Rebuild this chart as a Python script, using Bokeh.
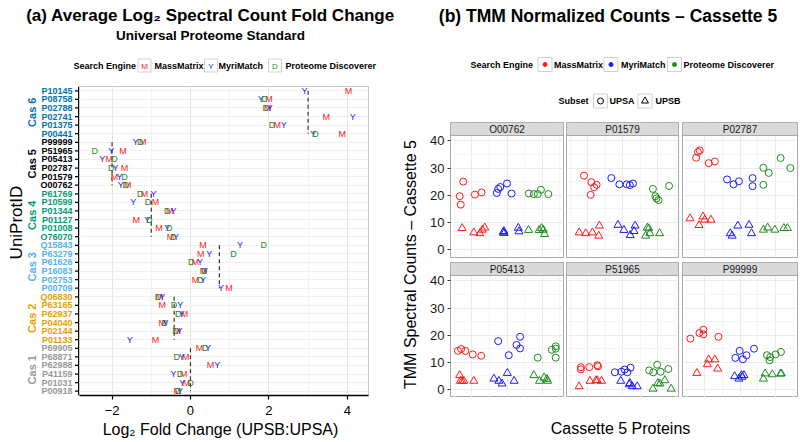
import math
from bokeh.plotting import figure
from bokeh.layouts import row, column
from bokeh.models import Range1d, FixedTicker
from bokeh.core.properties import value
from bokeh.embed import file_html
from bokeh.resources import INLINE

FONT = "Liberation Sans"
nan = float("nan")

# ---------------- data: panel (a) ----------------
proteins = ["P10145", "P08758", "P02788", "P02741", "P01375", "P00441",
            "P99999", "P51965", "P05413", "P02787", "P01579", "O00762",
            "P61769", "P10599", "P01344", "P01127", "P01008", "O76070",
            "Q15843", "P63279", "P61626", "P16083", "P02753", "P00709",
            "Q06830", "P63165", "P62937", "P04040", "P02144", "P01133",
            "P69905", "P68871", "P62988", "P41159", "P01031", "P00918"]
cassettes = ["Cas 6", "Cas 5", "Cas 4", "Cas 3", "Cas 2", "Cas 1"]
cassette_expected = [3.0, -2.0, -1.0, 0.737, -0.415, 0.0]
cassette_colors = ["#0072B2", "#000000", "#009E73", "#56B4E9", "#E69F00", "#999999"]
massmatrix_fc = [4.03, 2.00, 1.97, 3.46, 2.21, 3.87,
                 -1.22, -1.72, -2.08, -1.68, -1.94, -1.60,
                 -1.17, -0.89, -0.53, -1.38, -0.80, -0.51,
                 0.32, 0.26, 0.12, 0.33, 0.13, 0.98,
                 -0.79, -0.72, -0.15, -0.72, -0.34, -0.89,
                 0.23, -0.12, 0.51, -0.17, -0.10, -0.34]
myrimatch_fc = [2.91, 1.80, 2.02, 4.14, 2.38, 3.13,
                -1.40, -2.02, -2.25, -1.91, -1.81, -1.78,
                -0.94, -1.46, -0.43, -1.10, -0.59, -0.37,
                1.26, 0.48, 0.24, 0.37, 0.32, 0.78,
                -0.72, -0.26, -0.22, -0.64, -0.28, -1.55,
                0.45, -0.22, 0.68, -0.43, -0.21, -0.26]
discoverer_fc = [nan, 1.89, 1.92, nan, 2.08, 3.19,
                 -1.28, -2.44, -1.94, -2.02, -1.68, -1.65,
                 -1.28, -1.08, -0.59, -1.05, -0.54, -0.44,
                 1.87, 1.10, 0.02, 0.35, 0.25, nan,
                 -0.83, -0.42, -0.31, -0.66, -0.38, nan,
                 0.38, -0.35, nan, -0.27, 0.00, -0.32]
x_ticks_a = [-2, 0, 2, 4]

# ---------------- data: panel (b) ----------------
engines = ["MassMatrix", "MyriMatch", "Proteome Discoverer"]
engine_letters = ["M", "Y", "D"]
engine_colors = ["#FF1A1A", "#1A1AFF", "#1E8B1E"]
reps_per_engine = 5
facet_names = ["O00762", "P01579", "P02787", "P05413", "P51965", "P99999"]
y_ticks_b = [0, 10, 20, 30, 40]

o00762_upsa_pos = [0.66, 0.69, 0.76, 1.09, 1.28, 1.71, 1.75, 1.81, 2.00, 2.13, 2.62, 2.76, 2.87, 2.96, 3.17]
o00762_upsa_tmm = [19.6, 16.5, 25.0, 20.2, 21.0, 20.8, 22.3, 23.0, 24.3, 20.6, 20.6, 20.4, 20.4, 22.0, 20.4]
o00762_upsb_pos = [0.73, 1.06, 1.23, 1.30, 1.37, 1.89, 1.91, 1.92, 2.32, 2.34, 2.61, 2.91, 2.98, 3.03, 3.06]
o00762_upsb_tmm = [7.8, 6.2, 5.9, 7.2, 8.0, 6.2, 6.7, 6.0, 7.9, 6.6, 7.1, 7.1, 7.8, 7.2, 5.6]

p01579_upsa_pos = [0.90, 1.09, 1.11, 1.19, 1.26, 1.68, 1.91, 2.12, 2.21, 2.30, 2.87, 2.94, 2.97, 3.03, 3.33]
p01579_upsa_tmm = [27.2, 20.1, 24.8, 22.9, 23.8, 26.3, 24.0, 24.0, 23.7, 24.3, 22.3, 19.6, 18.8, 18.2, 23.4]
p01579_upsb_pos = [0.76, 0.95, 1.14, 1.32, 1.34, 1.87, 2.04, 2.22, 2.33, 2.36, 2.66, 2.71, 2.75, 2.78, 3.06]
p01579_upsb_tmm = [6.2, 5.9, 6.2, 5.0, 8.7, 9.0, 7.1, 5.2, 6.7, 8.7, 5.0, 8.0, 7.7, 5.9, 5.9]

p02787_upsa_pos = [0.78, 0.83, 0.88, 1.13, 1.30, 1.64, 1.82, 1.97, 2.35, 2.35, 2.65, 2.65, 2.80, 3.13, 3.40]
p02787_upsa_tmm = [33.8, 35.9, 36.5, 31.8, 32.4, 25.8, 24.0, 25.1, 26.3, 23.3, 30.1, 23.8, 28.2, 33.7, 30.0]
p02787_upsb_pos = [0.61, 0.86, 0.97, 1.02, 1.19, 1.73, 1.78, 1.94, 2.25, 2.32, 2.65, 2.77, 2.97, 3.22, 3.32]
p02787_upsb_tmm = [11.4, 8.9, 12.1, 10.9, 10.9, 5.9, 5.0, 8.7, 9.0, 5.9, 7.2, 8.0, 7.2, 7.8, 7.8]

p05413_upsa_pos = [0.61, 0.70, 0.82, 1.03, 1.27, 1.75, 2.05, 2.27, 2.37, 2.37, 2.87, 3.27, 3.38, 3.38, 3.38]
p05413_upsa_tmm = [14.2, 14.9, 14.2, 12.9, 12.4, 17.8, 12.6, 16.4, 15.1, 19.4, 11.7, 14.6, 15.9, 15.0, 11.7]
p05413_upsb_pos = [0.66, 0.68, 0.73, 0.78, 1.06, 1.63, 1.77, 1.86, 2.01, 2.20, 2.76, 2.92, 3.05, 3.13, 3.15]
p05413_upsb_tmm = [5.2, 3.1, 3.1, 3.1, 3.1, 3.9, 3.1, 2.1, 6.0, 3.1, 5.2, 3.1, 4.3, 3.8, 3.1]

p51965_upsa_pos = [0.81, 0.81, 1.05, 1.28, 1.30, 1.78, 1.97, 2.06, 2.14, 2.23, 2.76, 2.88, 2.99, 3.09, 3.31]
p51965_upsa_tmm = [8.2, 7.4, 8.2, 8.9, 8.5, 6.3, 6.5, 7.3, 6.3, 8.0, 7.0, 6.3, 9.1, 6.5, 7.5]
p51965_upsb_pos = [0.76, 1.07, 1.24, 1.28, 1.40, 1.95, 2.19, 2.21, 2.28, 2.42, 2.87, 3.01, 3.07, 3.21, 3.39]
p51965_upsb_tmm = [1.1, 3.1, 3.3, 3.3, 3.1, 3.1, 1.8, 2.3, 1.1, 1.1, 0.2, 2.3, 2.1, 3.3, 0.2]

p99999_upsa_pos = [0.62, 0.87, 0.98, 0.98, 1.40, 1.87, 1.99, 2.08, 2.18, 2.39, 2.75, 2.84, 2.82, 2.99, 3.14]
p99999_upsa_tmm = [18.7, 20.8, 22.0, 20.3, 19.4, 11.6, 14.2, 11.1, 12.6, 15.0, 12.6, 11.9, 10.7, 12.9, 13.8]
p99999_upsb_pos = [0.80, 1.09, 1.13, 1.30, 1.38, 1.85, 1.97, 2.04, 2.06, 2.11, 2.65, 2.70, 2.90, 3.13, 3.15]
p99999_upsb_tmm = [6.0, 9.2, 11.0, 11.0, 7.6, 4.8, 3.9, 5.2, 4.6, 5.2, 3.9, 5.8, 5.5, 5.8, 5.8]

facet_data = {
    "O00762": (o00762_upsa_pos, o00762_upsa_tmm, o00762_upsb_pos, o00762_upsb_tmm),
    "P01579": (p01579_upsa_pos, p01579_upsa_tmm, p01579_upsb_pos, p01579_upsb_tmm),
    "P02787": (p02787_upsa_pos, p02787_upsa_tmm, p02787_upsb_pos, p02787_upsb_tmm),
    "P05413": (p05413_upsa_pos, p05413_upsa_tmm, p05413_upsb_pos, p05413_upsb_tmm),
    "P51965": (p51965_upsa_pos, p51965_upsa_tmm, p51965_upsb_pos, p51965_upsb_tmm),
    "P99999": (p99999_upsa_pos, p99999_upsa_tmm, p99999_upsb_pos, p99999_upsb_tmm),
}


# ---------------- helpers ----------------
def blank(w, h, xr=None, yr=None, left=0, right=0, top=0, bottom=0):
    p = figure(width=w, height=h,
               x_range=xr if xr is not None else Range1d(0, w),
               y_range=yr if yr is not None else Range1d(h, 0),
               output_backend="svg", toolbar_location=None,
               x_axis_location=None, y_axis_location=None,
               min_border_left=left, min_border_right=right,
               min_border_top=top, min_border_bottom=bottom)
    p.outline_line_color = None
    p.grid.visible = False
    p.background_fill_color = "white"
    p.border_fill_color = "white"
    return p


def txt(p, x, y, s, size, color="black", bold=False, align="left", angle=0.0):
    p.text(x=[x], y=[y], text=[s], text_font=value(FONT),
           text_font_size=f"{size}px",
           text_font_style="bold" if bold else "normal",
           text_color=color, text_align=align, text_baseline="middle",
           angle=angle)


# ================= Panel (a) =================
n = len(proteins)
rows_y = [n - 1 - i for i in range(n)]
prot_colors = [cassette_colors[i // 6] for i in range(n)]

# header (title, subtitle, legend)
ha = blank(400, 80)
txt(ha, 210, 15, "(a) Average Log\u2082 Spectral Count Fold Change", 17, bold=True, align="center")
txt(ha, 210, 35, "Universal Proteome Standard", 13.5, bold=True, align="center")
txt(ha, 73, 65, "Search Engine", 9, bold=True)
key_x_a = [144, 210.5, 274.5]
ha.rect(x=key_x_a, y=[65] * 3, width=13, height=13, fill_color="white",
        line_color="#d0d0d0", line_width=1)
for kx, letter, col in zip(key_x_a, engine_letters, engine_colors):
    txt(ha, kx, 65.5, letter, 8, color=col, align="center")
for lx, lab in zip([154, 218, 285], engines):
    txt(ha, lx, 65, lab, 9, bold=True)

# main plot
xr_a = Range1d(-2.83, 4.54)
yr_a = Range1d(-0.5, n - 0.5)
pa = figure(width=321, height=341, x_range=xr_a, y_range=yr_a,
            output_backend="svg", toolbar_location=None, y_axis_location=None,
            min_border_left=0, min_border_right=32, min_border_top=6, min_border_bottom=26)
pa.background_fill_color = "white"
pa.border_fill_color = "white"
pa.outline_line_color = "#c8c8c8"
xa = pa.xaxis[0]
xa.ticker = FixedTicker(ticks=x_ticks_a, minor_ticks=[-1, 1, 3])
xa.axis_line_color = "black"
xa.axis_line_width = 1.5
xa.major_tick_line_color = "black"
xa.major_tick_line_width = 1.2
xa.major_tick_out = 4
xa.major_tick_in = 0
xa.minor_tick_line_color = None
xa.major_label_text_font = FONT
xa.major_label_text_font_size = "13px"
xa.major_label_text_color = "black"
xa.major_label_standoff = 6
pa.xgrid.ticker = FixedTicker(ticks=x_ticks_a, minor_ticks=[-1, 1, 3])
pa.xgrid.grid_line_color = "#e6e6e6"
pa.xgrid.minor_grid_line_color = "#f3f3f3"
pa.ygrid.ticker = FixedTicker(ticks=list(range(n)))
pa.ygrid.grid_line_color = "#efefef"

# expected fold-change segments per cassette
seg_x, seg_y0, seg_y1 = [], [], []
for k, ev in enumerate(cassette_expected):
    seg_x.append(ev)
    seg_y0.append(rows_y[k * 6])
    seg_y1.append(rows_y[k * 6 + 5])
pa.segment(x0=seg_x, y0=seg_y0, x1=seg_x, y1=seg_y1, line_color="#333333",
           line_dash="4 3", line_width=1.2)

for vals, letter, col in zip([massmatrix_fc, myrimatch_fc, discoverer_fc], engine_letters, engine_colors):
    xs = [v for v in vals if not math.isnan(v)]
    ys = [rows_y[i] for i, v in enumerate(vals) if not math.isnan(v)]
    pa.text(x=xs, y=ys, text=[letter] * len(xs), text_font=value(FONT),
            text_font_size="9px", text_color=col, text_align="center",
            text_baseline="middle")

# left strip: protein labels (coloured by cassette), cassette groups, axis line & ticks
la = blank(79, 341, xr=Range1d(0, 79), yr=yr_a, top=6, bottom=26)
la.segment(x0=[74.5] * n, y0=rows_y, x1=[79] * n, y1=rows_y, line_color="black", line_width=1.2)
la.segment(x0=[78.3], y0=[yr_a.start], x1=[78.3], y1=[yr_a.end], line_color="black", line_width=1.5)
la.text(x=[72] * n, y=rows_y, text=proteins, text_font=value(FONT),
        text_font_size="9px", text_font_style="bold", text_color=prot_colors,
        text_align="right", text_baseline="middle")
cas_y = [sum(rows_y[k * 6:(k + 1) * 6]) / 6.0 for k in range(6)]
la.text(x=[31] * 6, y=cas_y, text=cassettes, text_font=value(FONT),
        text_font_size="11px", text_font_style="bold", text_color=cassette_colors,
        text_align="center", text_baseline="middle", angle=math.pi / 2)
txt(la, 16, 19.65, "UniProtID", 17, align="center", angle=math.pi / 2)

xla = blank(400, 21)
txt(xla, 220, 8, "Log\u2082 Fold Change (UPSB:UPSA)", 16, align="center")

left_col = column(ha, row(la, pa), xla)

# ================= Panel (b) =================
hb = blank(400, 122)
txt(hb, 207.5, 15, "(b) TMM Normalized Counts \u2013 Cassette 5", 17.5, bold=True, align="center")
txt(hb, 70, 64, "Search Engine", 9, bold=True)
key_x_b = [144.5, 210.5, 274]
hb.rect(x=key_x_b, y=[64] * 3, width=14, height=14, fill_color="white",
        line_color="#d0d0d0", line_width=1)
hb.scatter(x=key_x_b, y=[64] * 3, marker="circle", size=4, fill_color=engine_colors,
           line_color=engine_colors)
for lx, lab in zip([153.5, 220.5, 283], engines):
    txt(hb, lx, 64, lab, 9, bold=True)
txt(hb, 158, 100.5, "Subset", 9, bold=True)
key_x_s = [200, 244.5]
hb.rect(x=key_x_s, y=[100.5] * 2, width=14, height=14, fill_color="white",
        line_color="#d0d0d0", line_width=1)
hb.scatter(x=[key_x_s[0]], y=[100.5], marker="circle", size=6, fill_color=None,
           line_color="black", line_width=1)
hb.scatter(x=[key_x_s[1]], y=[100.5], marker="triangle", size=7, fill_color=None,
           line_color="black", line_width=1)
txt(hb, 209, 100.5, "UPSA", 9, bold=True)
txt(hb, 255, 100.5, "UPSB", 9, bold=True)

yt = blank(20, 275)
txt(yt, 10, 142, "TMM Spectral Counts \u2013 Cassette 5", 16, align="center", angle=math.pi / 2)

Y_LO, Y_HI = -3.0, 42.0
PANEL_H, STRIP_H = 122, 13
strip_top = Y_HI + STRIP_H * (Y_HI - Y_LO) / PANEL_H
frame_w = [113, 112, 115]
right_gap = [3, 4, 3]


def facet(name, col, rowi):
    left = 30 if col == 0 else 0
    right = right_gap[col]
    w = left + frame_w[col] + right
    bottom = 5 if rowi == 0 else 0
    pl = figure(width=w, height=PANEL_H + STRIP_H + bottom,
                x_range=Range1d(0.4, 3.6), y_range=Range1d(Y_LO, strip_top),
                output_backend="svg", toolbar_location=None,
                x_axis_location=None, y_axis_location="left" if col == 0 else None,
                min_border_left=left, min_border_right=right, min_border_top=0,
                min_border_bottom=bottom)
    pl.background_fill_color = "white"
    pl.border_fill_color = "white"
    pl.outline_line_color = "#a8a8a8"
    pl.ygrid.ticker = FixedTicker(ticks=y_ticks_b, minor_ticks=[5, 15, 25, 35])
    pl.ygrid.grid_line_color = "#ebebeb"
    pl.ygrid.minor_grid_line_color = "#f5f5f5"
    pl.xgrid.ticker = FixedTicker(ticks=[1, 2, 3], minor_ticks=[0.5, 1.5, 2.5, 3.5])
    pl.xgrid.grid_line_color = "#ebebeb"
    pl.xgrid.minor_grid_line_color = "#f5f5f5"
    if col == 0:
        ax = pl.yaxis[0]
        ax.ticker = FixedTicker(ticks=y_ticks_b)
        ax.axis_line_color = None
        ax.major_tick_line_color = "#333333"
        ax.major_tick_out = 3
        ax.major_tick_in = 0
        ax.minor_tick_line_color = None
        ax.major_label_text_font = FONT
        ax.major_label_text_font_size = "13px"
        ax.major_label_text_color = "#1a1a1a"
        ax.major_label_standoff = 3
    # facet strip
    pl.quad(left=[0.4], right=[3.6], bottom=[Y_HI], top=[strip_top],
            fill_color="#d9d9d9", line_color="#a8a8a8", line_width=1)
    pl.text(x=[2.0], y=[(Y_HI + strip_top) / 2], text=[name], text_font=value(FONT),
            text_font_size="10px", text_color="#1a1a1a", text_align="center",
            text_baseline="middle")
    a_pos, a_tmm, b_pos, b_tmm = facet_data[name]
    for e, colr in enumerate(engine_colors):
        s, t = e * reps_per_engine, (e + 1) * reps_per_engine
        pl.scatter(x=a_pos[s:t], y=a_tmm[s:t], marker="circle", size=7,
                   fill_color=None, line_color=colr, line_width=1)
        pl.scatter(x=b_pos[s:t], y=b_tmm[s:t], marker="triangle", size=8,
                   fill_color=None, line_color=colr, line_width=1)
    return pl


grid_rows = []
for r in range(2):
    grid_rows.append(row(*[facet(facet_names[r * 3 + c], c, r) for c in range(3)]))
facets = column(*grid_rows)

xlb = blank(400, 45)
txt(xlb, 220, 31, "Cassette 5 Proteins", 16, align="center")

right_col = column(hb, row(yt, facets), xlb)

page = row(left_col, right_col)

open("out.html", "w").write(file_html(page, INLINE))
